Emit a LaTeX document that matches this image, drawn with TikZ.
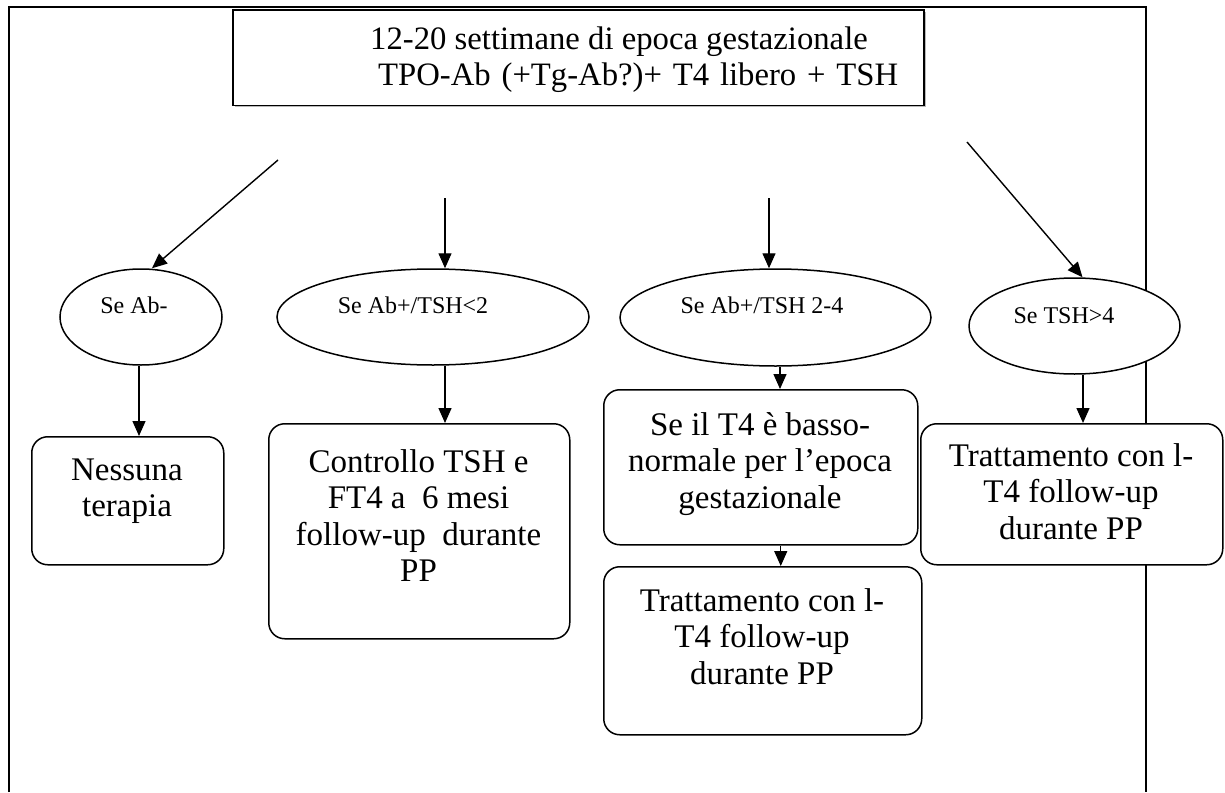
\documentclass[tikz,border=0pt]{standalone}
\usepackage{fontspec}
\setmainfont{Liberation Serif}
\usetikzlibrary{arrows.meta,shapes.geometric}
\begin{document}
\begin{tikzpicture}[x=1pt,y=-1pt,
  arr/.style={line width=1.4pt,-{Triangle[length=15pt,width=13pt]}},
  rbox/.style={draw,line width=1.5pt,rounded corners=16pt,fill=white,inner sep=0pt,anchor=north west},
  ell/.style={draw,ellipse,line width=1.5pt,fill=white,inner sep=0pt},
  big/.style={font=\fontsize{33}{36.5}\selectfont,align=center,inner sep=0pt,anchor=north},
  small/.style={font=\fontsize{24}{28}\selectfont,inner sep=0pt,anchor=base}]
\useasboundingbox (0,0) rectangle (1225,792);
% outer frame
\draw[line width=2.5pt] (9,792) -- (9,7) -- (1146,7) -- (1146,792);
% top box
\fill[gray!55] (234.5,12) rectangle (925.5,106.5);
\node[draw,line width=1.5pt,fill=white,inner sep=0pt,anchor=north west,
      minimum width=691pt,minimum height=95pt] (top) at (232,9.5) {};
\node[font=\fontsize{32.7}{36}\selectfont,align=left,inner sep=0pt,anchor=north west]
  (toptxt) at (370,23.8) {\strut 12-20 settimane di epoca gestazionale\\\hspace*{8pt}\makebox[520pt][s]{TPO-Ab (+Tg-Ab?)+ T4 libero + TSH}};
% ellipses
\node[ell,minimum width=162pt,minimum height=96pt] (e1) at (141,317) {};
\node[ell,minimum width=312pt,minimum height=96pt] (e2) at (433,317) {};
\node[ell,minimum width=311pt,minimum height=97pt] (e3) at (775.5,317.5) {};
\node[ell,minimum width=211pt,minimum height=96pt] (e4) at (1074.5,326) {};
\node[small] (t1) at (134,313) {Se Ab-};
\node[small] (t2) at (413,313) {Se Ab+/TSH<2};
\node[small] (t3) at (762,313) {Se Ab+/TSH 2-4};
\node[small] (t4) at (1064,323) {Se TSH>4};
% boxes
\node[rbox,minimum width=192pt,minimum height=128pt] (b1) at (31,436) {};
\node[rbox,minimum width=301pt,minimum height=215pt] (b2) at (268,423) {};
\node[rbox,minimum width=314pt,minimum height=155pt] (b3) at (603,389) {};
\node[rbox,minimum width=318pt,minimum height=168pt] (b4) at (603,566) {};
\node[rbox,minimum width=302pt,minimum height=141pt] (b5) at (920,423) {};
\node[big] (bt1) at (127,454.5) {\strut Nessuna\\terapia};
\node[big] (bt2) at (418.5,446.5) {\strut Controllo TSH e\\FT4 a~~6 mesi\\follow-up~~durante\\PP};
\node[big] (bt3) at (760,409.5) {\strut Se il T4 è basso-\\normale per l’epoca\\gestazionale};
\node[big] (bt4) at (762,585.5) {\strut Trattamento con l-\\T4 follow-up\\durante PP};
\node[big] (bt5) at (1071,440.5) {\strut Trattamento con l-\\T4 follow-up\\durante PP};
% arrows
\coordinate (s1) at (278,160);
\coordinate (s2) at (445,198);
\coordinate (s3) at (769,198);
\coordinate (s4) at (967,142);
\draw[arr] (s1) -- ([xshift=11pt]e1.north);
\draw[arr] (s2) -- (s2 |- e2.north);
\draw[arr] (s3) -- (s3 |- e3.north);
\draw[arr] (s4) -- ([xshift=8pt]e4.north);
\draw[arr] ([xshift=-2pt]e1.south) -- ([xshift=-2pt]e1.south |- b1.north);
\draw[arr] ([xshift=12pt]e2.south) -- ([xshift=12pt]e2.south |- b2.north);
\draw[arr] ([xshift=4.5pt]e3.south) -- ([xshift=4.5pt]e3.south |- b3.north);
\draw[arr] ([xshift=20pt]b3.south) -- ([xshift=20pt]b3.south |- b4.north);
\draw[arr] ([xshift=8.5pt]e4.south) -- ([xshift=8.5pt]e4.south |- b5.north);
\end{tikzpicture}
\end{document}
